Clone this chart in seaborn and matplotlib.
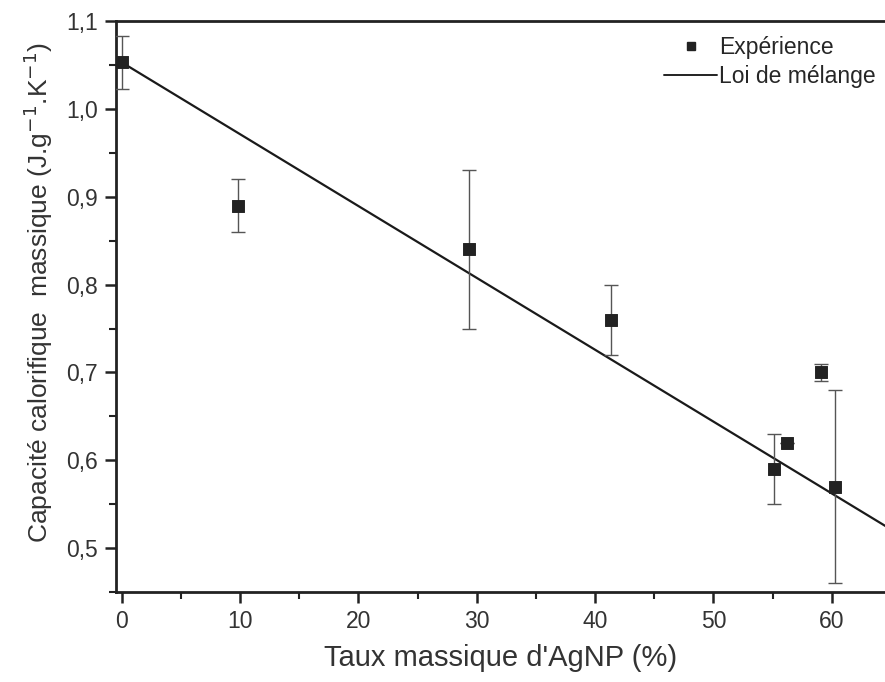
import numpy as np
import seaborn as sns
import matplotlib
matplotlib.use("Agg")
import matplotlib.pyplot as plt
from matplotlib.ticker import MultipleLocator, FuncFormatter
from matplotlib.lines import Line2D

# Measured specific heat vs AgNP mass fraction
taux = [0.0, 9.8, 29.3, 41.3, 55.1, 56.2, 59.1, 60.3]
cp = [1.053, 0.89, 0.84, 0.76, 0.59, 0.62, 0.70, 0.57]
cp_err = [0.03, 0.03, 0.09, 0.04, 0.04, 0.0, 0.01, 0.11]

# Mixing law: polymer Cp at 0 %, silver Cp at 100 %
loi_taux = [0.0, 100.0]
loi_cp = [1.053, 0.235]

sns.set_style("ticks")
plt.rcParams['font.family'] = ['Liberation Sans', 'DejaVu Sans']

fig = plt.figure(figsize=(8.85, 6.82), dpi=100)
ax = fig.add_axes([0.131, 0.132, 0.869, 0.837])

sns.lineplot(x=loi_taux, y=loi_cp, ax=ax, color='#1a1a1a', linewidth=1.6)
ax.errorbar(taux, cp, yerr=cp_err, fmt='none', ecolor='#555555',
            elinewidth=1.0, capsize=5, capthick=1.0, zorder=3)
sns.scatterplot(x=taux, y=cp, ax=ax, marker='s', s=70, color='#222222',
                edgecolor='#222222', zorder=4)

ax.set_xlim(-0.5, 64.5)
ax.set_ylim(0.45, 1.1)
ax.xaxis.set_major_locator(MultipleLocator(10))
ax.xaxis.set_minor_locator(MultipleLocator(5))
ax.yaxis.set_major_locator(MultipleLocator(0.1))
ax.yaxis.set_minor_locator(MultipleLocator(0.05))
ax.yaxis.set_major_formatter(FuncFormatter(lambda v, p: f"{v:.1f}".replace('.', ',')))

ax.tick_params(which='major', length=8, width=1.8, labelsize=16.5, color='#222222',
               labelcolor='#333333', pad=5)
ax.tick_params(which='minor', length=5, width=1.5, color='#222222')
for s in ['left', 'bottom', 'top']:
    ax.spines[s].set_linewidth(2.0)
    ax.spines[s].set_color('#222222')
ax.spines['right'].set_visible(False)

ax.set_xlabel("Taux massique d'AgNP (%)", fontsize=21, color='#333333', labelpad=8)
ax.set_ylabel("Capacité calorifique  massique (J.g$^{-1}$.K$^{-1}$)", fontsize=19,
              color='#333333', labelpad=8)
ax.yaxis.label.set_y(0.525)

handles = [Line2D([], [], marker='s', linestyle='none', color='#222222', markersize=6),
           Line2D([], [], color='#222222', linewidth=1.4)]
ax.legend(handles, ['Expérience', 'Loi de mélange'], loc='upper right', frameon=False,
          fontsize=16.5, handlelength=2.3, handletextpad=0.1, borderaxespad=0.0,
          labelspacing=0.25, bbox_to_anchor=(1.0, 0.99))

fig.savefig("out.png", dpi=100)
